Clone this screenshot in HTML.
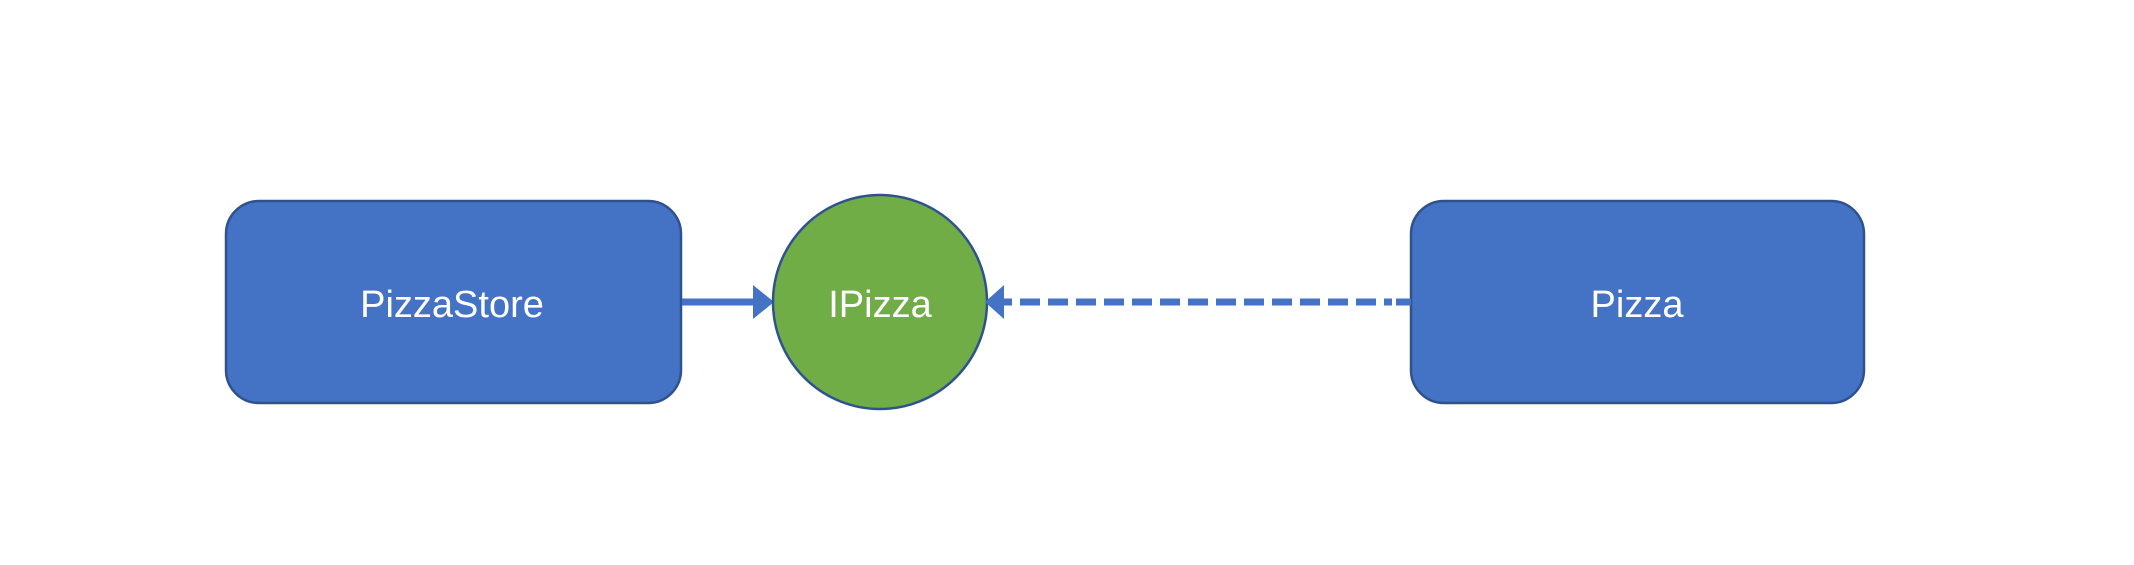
<!DOCTYPE html>
<html><head><meta charset="utf-8"><style>
html,body{margin:0;padding:0;background:#fff;}
</style></head><body>
<svg width="2134" height="560" viewBox="0 0 2134 560" xmlns="http://www.w3.org/2000/svg">
<rect x="226" y="201" width="455" height="202" rx="33" ry="33" fill="#4472C4" stroke="#2F528F" stroke-width="2.5"/>
<rect x="1411" y="201" width="453" height="202" rx="33" ry="33" fill="#4472C4" stroke="#2F528F" stroke-width="2.5"/>
<line x1="682" y1="302" x2="756" y2="302" stroke="#4472C4" stroke-width="7"/>
<polygon points="753,285 774,302 753,319" fill="#4472C4"/>
<circle cx="880" cy="302" r="107" fill="#70AD47" stroke="#2F528F" stroke-width="2.5"/>
<polygon points="1004,285 985,302 1004,319" fill="#4472C4"/>
<line x1="1000" y1="302" x2="1012" y2="302" stroke="#4472C4" stroke-width="7"/>
<line x1="1020" y1="302" x2="1392" y2="302" stroke="#4472C4" stroke-width="7" stroke-dasharray="20 8"/>
<line x1="1396" y1="302" x2="1411" y2="302" stroke="#4472C4" stroke-width="7"/>
<g font-family="'Liberation Sans', sans-serif" font-size="38" fill="#fff" text-anchor="middle">
<text x="452" y="317">PizzaStore</text>
<text x="880" y="317">IPizza</text>
<text x="1637" y="317">Pizza</text>
</g>
</svg>
</body></html>
